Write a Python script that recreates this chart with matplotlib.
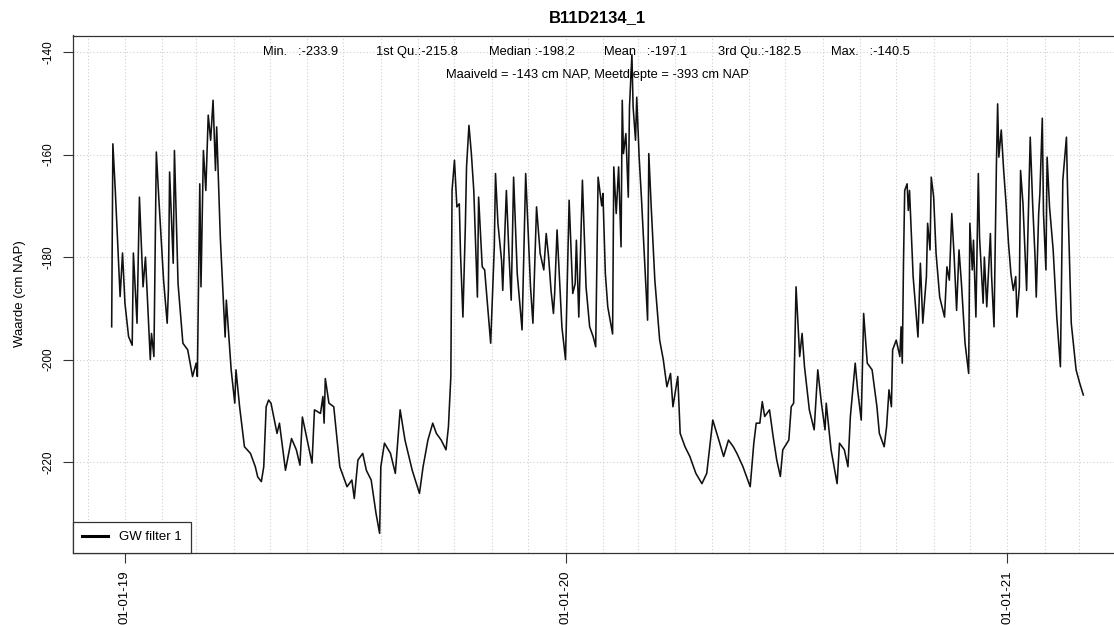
import matplotlib
matplotlib.use("Agg")
import matplotlib.pyplot as plt
import matplotlib.dates as mdates
import numpy as np
import pandas as pd

# ---------------- data ----------------
dates = [
    "2018-12-21", "2018-12-22", "2018-12-24", "2018-12-28", "2018-12-30", "2019-01-01", "2019-01-04", "2019-01-07",
    "2019-01-08", "2019-01-11", "2019-01-13", "2019-01-16", "2019-01-18", "2019-01-22", "2019-01-23", "2019-01-25",
    "2019-01-27", "2019-01-29", "2019-02-02", "2019-02-05", "2019-02-06", "2019-02-07", "2019-02-10", "2019-02-11",
    "2019-02-14", "2019-02-18", "2019-02-22", "2019-02-26", "2019-03-01", "2019-03-02", "2019-03-04", "2019-03-05",
    "2019-03-07", "2019-03-09", "2019-03-11", "2019-03-13", "2019-03-15", "2019-03-17", "2019-03-18", "2019-03-21",
    "2019-03-25", "2019-03-26", "2019-03-30", "2019-04-02", "2019-04-03", "2019-04-06", "2019-04-10", "2019-04-15",
    "2019-04-19", "2019-04-21", "2019-04-24", "2019-04-26", "2019-04-28", "2019-04-30", "2019-05-02", "2019-05-07",
    "2019-05-09", "2019-05-14", "2019-05-19", "2019-05-23", "2019-05-26", "2019-05-28", "2019-06-01", "2019-06-05",
    "2019-06-07", "2019-06-12", "2019-06-14", "2019-06-15", "2019-06-16", "2019-06-19", "2019-06-23", "2019-06-28",
    "2019-07-04", "2019-07-08", "2019-07-10", "2019-07-13", "2019-07-17", "2019-07-20", "2019-07-24", "2019-07-28",
    "2019-07-31", "2019-08-01", "2019-08-04", "2019-08-09", "2019-08-13", "2019-08-17", "2019-08-21", "2019-08-27",
    "2019-09-02", "2019-09-05", "2019-09-09", "2019-09-13", "2019-09-16", "2019-09-20", "2019-09-24", "2019-09-26",
    "2019-09-28", "2019-09-29", "2019-10-01", "2019-10-03", "2019-10-05", "2019-10-06", "2019-10-08", "2019-10-10",
    "2019-10-11", "2019-10-13", "2019-10-15", "2019-10-17", "2019-10-18", "2019-10-20", "2019-10-21", "2019-10-24",
    "2019-10-26", "2019-10-31", "2019-11-03", "2019-11-04", "2019-11-06", "2019-11-09", "2019-11-10", "2019-11-13",
    "2019-11-15", "2019-11-17", "2019-11-19", "2019-11-22", "2019-11-26", "2019-11-29", "2019-12-03", "2019-12-05",
    "2019-12-08", "2019-12-11", "2019-12-14", "2019-12-16", "2019-12-18", "2019-12-20", "2019-12-22", "2019-12-23",
    "2019-12-25", "2019-12-29", "2020-01-01", "2020-01-04", "2020-01-07", "2020-01-09", "2020-01-10", "2020-01-12",
    "2020-01-15", "2020-01-18", "2020-01-21", "2020-01-24", "2020-01-26", "2020-01-28", "2020-01-31", "2020-02-01",
    "2020-02-03", "2020-02-05", "2020-02-09", "2020-02-10", "2020-02-12", "2020-02-14", "2020-02-16", "2020-02-17",
    "2020-02-18", "2020-02-20", "2020-02-22", "2020-02-23", "2020-02-25", "2020-02-26", "2020-02-28", "2020-02-29",
    "2020-03-02", "2020-03-04", "2020-03-07", "2020-03-09", "2020-03-10", "2020-03-12", "2020-03-15", "2020-03-19",
    "2020-03-22", "2020-03-25", "2020-03-28", "2020-03-30", "2020-04-03", "2020-04-05", "2020-04-09", "2020-04-13",
    "2020-04-18", "2020-04-23", "2020-04-27", "2020-05-02", "2020-05-07", "2020-05-11", "2020-05-15", "2020-05-19",
    "2020-05-22", "2020-05-27", "2020-06-02", "2020-06-05", "2020-06-07", "2020-06-10", "2020-06-12", "2020-06-14",
    "2020-06-18", "2020-06-21", "2020-06-24", "2020-06-27", "2020-06-29", "2020-07-04", "2020-07-06", "2020-07-08",
    "2020-07-10", "2020-07-12", "2020-07-13", "2020-07-15", "2020-07-17", "2020-07-21", "2020-07-25", "2020-07-28",
    "2020-07-31", "2020-08-03", "2020-08-04", "2020-08-08", "2020-08-13", "2020-08-15", "2020-08-19", "2020-08-22",
    "2020-08-24", "2020-08-28", "2020-08-30", "2020-09-02", "2020-09-04", "2020-09-07", "2020-09-11", "2020-09-15",
    "2020-09-17", "2020-09-21", "2020-09-23", "2020-09-25", "2020-09-27", "2020-09-28", "2020-10-01", "2020-10-04",
    "2020-10-05", "2020-10-06", "2020-10-07", "2020-10-08", "2020-10-10", "2020-10-11", "2020-10-12", "2020-10-15",
    "2020-10-19", "2020-10-21", "2020-10-23", "2020-10-26", "2020-10-27", "2020-10-29", "2020-10-30", "2020-11-01",
    "2020-11-03", "2020-11-06", "2020-11-10", "2020-11-12", "2020-11-14", "2020-11-16", "2020-11-18", "2020-11-20",
    "2020-11-22", "2020-11-24", "2020-11-27", "2020-11-30", "2020-12-01", "2020-12-03", "2020-12-04", "2020-12-06",
    "2020-12-08", "2020-12-09", "2020-12-12", "2020-12-13", "2020-12-15", "2020-12-18", "2020-12-19", "2020-12-21",
    "2020-12-23", "2020-12-24", "2020-12-25", "2020-12-27", "2020-12-29", "2020-12-31", "2021-01-02", "2021-01-04",
    "2021-01-06", "2021-01-08", "2021-01-09", "2021-01-11", "2021-01-12", "2021-01-14", "2021-01-16", "2021-01-17",
    "2021-01-18", "2021-01-20", "2021-01-22", "2021-01-24", "2021-01-25", "2021-01-27", "2021-01-28", "2021-01-30",
    "2021-01-31", "2021-02-02", "2021-02-03", "2021-02-05", "2021-02-08", "2021-02-11", "2021-02-14", "2021-02-16",
    "2021-02-19", "2021-02-20", "2021-02-23", "2021-02-27", "2021-03-02", "2021-03-05",
]
levels = [
    -193.6, -157.9, -167.0, -187.7, -179.2, -189.0, -195.5, -197.2,
    -179.2, -192.9, -168.3, -185.8, -180.0, -200.0, -194.9, -199.4,
    -159.5, -168.3, -184.5, -192.9, -186.4, -163.4, -181.2, -159.2,
    -185.2, -196.8, -198.1, -203.3, -200.7, -203.3, -165.7, -185.8,
    -159.2, -167.0, -152.3, -157.2, -149.4, -163.1, -154.6, -176.1,
    -195.6, -188.4, -202.0, -208.5, -202.0, -209.2, -217.0, -218.3,
    -220.9, -222.9, -223.8, -220.9, -209.2, -207.9, -208.5, -214.4,
    -212.4, -221.6, -215.4, -217.6, -220.6, -211.2, -215.7, -220.2,
    -209.8, -210.5, -207.2, -212.4, -203.7, -208.5, -209.2, -220.9,
    -224.8, -223.5, -227.1, -219.6, -218.3, -221.6, -223.5, -230.0,
    -233.9, -220.9, -216.3, -218.3, -222.2, -209.8, -215.7, -221.6,
    -226.1, -220.9, -215.7, -212.4, -214.4, -215.7, -217.6, -213.1,
    -203.3, -167.0, -161.1, -170.2, -169.6, -179.3, -191.7, -174.1,
    -162.4, -154.3, -159.8, -167.0, -174.1, -187.8, -168.3, -181.9,
    -182.5, -196.8, -178.0, -163.7, -173.4, -180.6, -186.5, -167.0,
    -178.6, -188.4, -164.4, -183.2, -194.2, -163.7, -185.8, -192.9,
    -170.2, -179.3, -182.5, -175.4, -180.0, -186.5, -191.0, -187.1,
    -174.7, -193.6, -200.0, -168.9, -187.1, -185.2, -176.7, -191.7,
    -165.0, -185.8, -193.6, -195.6, -197.5, -164.4, -170.0, -167.6,
    -183.2, -189.7, -195.0, -162.4, -171.5, -162.4, -178.0, -149.4,
    -159.8, -155.9, -168.3, -150.7, -140.5, -150.7, -157.2, -148.8,
    -160.5, -168.9, -183.2, -192.3, -159.8, -170.2, -184.5, -196.2,
    -200.0, -205.3, -202.7, -209.2, -203.3, -214.4, -217.0, -218.9,
    -222.2, -224.2, -222.2, -211.8, -215.7, -218.9, -215.7, -217.0,
    -218.3, -220.9, -224.8, -216.3, -212.4, -212.4, -208.2, -211.1,
    -209.8, -215.0, -219.6, -222.8, -217.6, -215.7, -209.2, -208.5,
    -185.8, -194.9, -199.4, -194.9, -201.4, -209.8, -213.7, -202.0,
    -208.5, -213.7, -208.5, -217.6, -224.2, -216.3, -217.6, -220.9,
    -211.1, -200.7, -205.9, -211.8, -191.0, -200.7, -202.0, -209.2,
    -214.4, -217.0, -213.1, -205.9, -209.2, -198.1, -196.2, -199.4,
    -193.6, -200.7, -181.2, -167.0, -165.7, -170.9, -167.0, -183.8,
    -195.6, -181.2, -192.9, -183.8, -173.4, -178.6, -164.4, -168.3,
    -179.3, -187.8, -191.7, -181.9, -184.5, -171.5, -180.0, -190.4,
    -178.6, -185.1, -196.8, -202.7, -173.4, -182.5, -176.7, -191.7,
    -163.7, -176.1, -189.0, -180.0, -189.7, -175.4, -183.8, -193.6,
    -161.8, -150.1, -160.5, -155.2, -163.1, -169.6, -177.3, -183.2,
    -186.5, -183.8, -191.7, -185.8, -163.1, -169.6, -181.2, -186.5,
    -176.1, -156.6, -169.6, -180.0, -187.8, -171.5, -167.6, -152.9,
    -171.5, -182.5, -160.5, -170.2, -178.6, -191.7, -201.4, -165.0,
    -156.6, -167.6, -192.9, -202.0, -204.6, -206.9,
]

title = "B11D2134_1"
stat_labels = ["Min.   :-233.9", "1st Qu.:-215.8", "Median :-198.2",
               "Mean   :-197.1", "3rd Qu.:-182.5", "Max.   :-140.5"]
info_line = "Maaiveld = -143 cm NAP, Meetdiepte = -393 cm NAP"
y_label = "Waarde (cm NAP)"
series_label = "GW filter 1"
y_ticks = [-140, -160, -180, -200, -220]

# ---------------- figure ----------------
W, H = 1114, 625
plt.rcParams['font.family'] = ['Liberation Sans', 'DejaVu Sans']
plt.rcParams['axes.unicode_minus'] = False
fig = plt.figure(figsize=(W / 100, H / 100), dpi=100)
fig.patch.set_facecolor("white")

def fx(px):
    return px / W

def fy(py):
    return 1 - py / H

left_px, right_px, top_px, bottom_px = 72.8, 1122.2, 35.5, 552.5
ax = fig.add_axes([fx(left_px), fy(bottom_px), (right_px - left_px) / W,
                   (bottom_px - top_px) / H])

t = pd.to_datetime(dates)
v = np.array(levels)

ax.plot(t, v, color="#111111", lw=1.15, label=series_label)

# R-like 4% axis extension
tn = mdates.date2num(t)
span = tn.max() - tn.min()
ax.set_xlim(tn.min() - 0.04 * span, tn.max() + 0.04 * span)
r = v.max() - v.min()
ax.set_ylim(v.min() - 0.04 * r, v.max() + 0.04 * r)

# ticks
ax.xaxis.set_major_locator(mdates.YearLocator())
ax.xaxis.set_major_formatter(mdates.DateFormatter("%d-%m-%y"))
ax.xaxis.set_minor_locator(mdates.MonthLocator())
ax.set_yticks(y_ticks)
ax.tick_params(axis="x", which="major", length=7, width=0.8, pad=6,
               labelsize=9.5, labelrotation=90, color="#333333")
ax.tick_params(axis="x", which="minor", length=0)
ax.tick_params(axis="y", which="major", length=7, width=0.8, pad=6,
               labelsize=8.5, color="#333333")
for lab in ax.get_yticklabels():
    lab.set_rotation(90)
    lab.set_va("center")

# grid
ax.grid(True, which="major", axis="y", color="#cfcfcf", lw=0.8, ls=(0, (1, 2)))
ax.grid(True, which="both", axis="x", color="#cfcfcf", lw=0.8, ls=(0, (1, 2)))
ax.set_axisbelow(True)

for s in ["left", "bottom", "top"]:
    ax.spines[s].set_color("#333333")
    ax.spines[s].set_linewidth(0.9)
ax.spines["right"].set_visible(False)

leg = ax.legend(loc="lower left", borderaxespad=0, fancybox=False,
                edgecolor="#333333", framealpha=1, fontsize=9.5,
                handlelength=2.0, handletextpad=0.8, borderpad=0.7)
leg.get_frame().set_linewidth(0.9)
for ln in leg.get_lines():
    ln.set_linewidth(2.2)
    ln.set_color("black")

# texts
center_px = (left_px + right_px) / 2
fig.text(fx(center_px), fy(18), title, ha="center", va="center",
         fontsize=12, fontweight="bold")
stat_x = [263, 376, 489, 604, 718, 831]
for xp, s in zip(stat_x, stat_labels):
    fig.text(fx(xp), fy(52), s, ha="left", va="center", fontsize=9.3)
fig.text(fx(center_px), fy(75), info_line, ha="center", va="center", fontsize=9.3)
fig.text(fx(20), fy(294), y_label, ha="center", va="center", rotation=90, fontsize=9.5)

fig.savefig("out.png", dpi=100)
